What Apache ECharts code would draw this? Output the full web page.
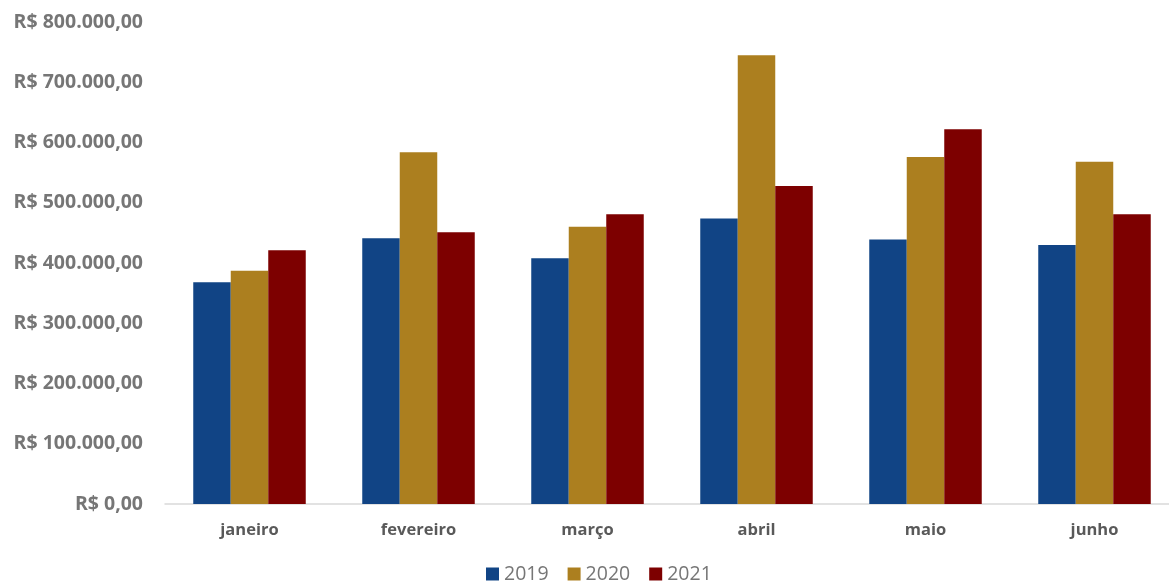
<!DOCTYPE html>
<html>
<head>
<meta charset="utf-8">
<script src="https://cdn.jsdelivr.net/npm/echarts@6/dist/echarts.min.js"></script>
<style>
    html, body { margin: 0; padding: 0; background: #fff; overflow: hidden; }
    #main { width: 1179px; height: 586px; }
</style>
</head>
<body>
<div id="main"></div>
<script>
'use strict';

var months = ['janeiro', 'fevereiro', 'março', 'abril', 'maio', 'junho'];
var years = ['2019', '2020', '2021'];
var sales2019 = [368000, 441000, 408000, 474000, 439000, 430000];
var sales2020 = [387000, 584000, 460000, 745000, 576000, 568000];
var sales2021 = [421000, 451000, 481000, 528000, 622000, 481000];
var colors = ['#114485', '#ac7f1f', '#7d0000'];

// R$ 100.000,00
function formatBRL(v) {
    var s = String(Math.round(v));
    s = s.replace(/\B(?=(\d{3})+(?!\d))/g, '.');
    return 'R$ ' + s + ',00';
}

function makeSeries(name, data, color) {
    return {
        name: name,
        type: 'bar',
        data: data,
        barWidth: 37.5,
        barGap: '0%',
        itemStyle: { color: color }
    };
}

// chart area is a bit wider than the window, the plot runs off the right edge
var myChart = echarts.init(document.getElementById('main'));
var option = {
    animation: false,
    textStyle: { fontFamily: 'Open Sans' },
    legend: {
        data: years,
        top: 559,
        left: 481,
        itemWidth: 13,
        itemHeight: 13,
        itemGap: 19,
        icon: 'rect',
        textStyle: { color: '#767676', fontSize: 19.5, fontFamily: 'Open Sans' }
    },
    grid: {
        left: 165,
        top: 22,
        right: 0,
        height: 482,
        containLabel: false
    },
    xAxis: {
        type: 'category',
        data: months,
        axisLine: { lineStyle: { color: '#d9d9d9', width: 1.5 } },
        axisTick: { show: false },
        axisLabel: {
            color: '#595959',
            fontWeight: 'bold',
            fontSize: 16.5,
            margin: 18
        }
    },
    yAxis: {
        type: 'value',
        min: 0,
        max: 800000,
        interval: 100000,
        splitLine: { show: false },
        axisLine: { show: false },
        axisTick: { show: false },
        axisLabel: {
            color: '#767676',
            fontWeight: 'bold',
            fontSize: 19.5,
            margin: 22,
            formatter: formatBRL
        }
    },
    series: [
        makeSeries(years[0], sales2019, colors[0]),
        makeSeries(years[1], sales2020, colors[1]),
        makeSeries(years[2], sales2021, colors[2])
    ]
};
myChart.setOption(option);
</script>
</body>
</html>
